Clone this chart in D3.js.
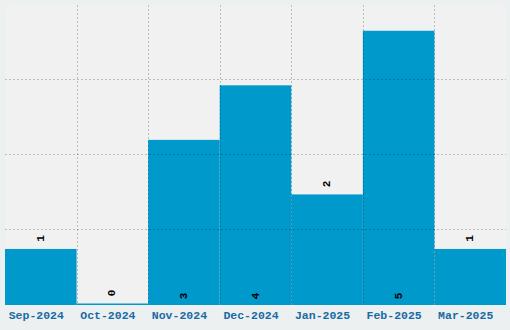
<!DOCTYPE html>
<html><head><meta charset="utf-8">
<script src="https://cdn.jsdelivr.net/npm/d3@7"></script>
<style>
html,body{margin:0;padding:0;background:#ecf0f1;}
svg{display:block;}
text{font-family:'Liberation Mono','DejaVu Sans Mono','Courier New',monospace;font-weight:bold;}
</style></head>
<body>
<svg id="chart" width="510" height="330"></svg>
<script>
const categories = ["Sep-2024","Oct-2024","Nov-2024","Dec-2024","Jan-2025","Feb-2025","Mar-2025"];
const values = [1,0,3,4,2,5,1];
const yGridCount = 4;

const W = 510, H = 330;
const m = {left:5, right:4, top:5, bottom:25};
const svg = d3.select("#chart");
svg.append("rect").attr("width",W).attr("height",H).attr("fill","#ecf0f1");
const iw = W - m.left - m.right, ih = H - m.top - m.bottom;
const g = svg.append("g").attr("transform",`translate(${m.left},${m.top})`);
g.append("rect").attr("width",iw).attr("height",ih).attr("fill","#f1f1f1");

const x = d3.scaleBand().domain(categories).range([0,iw]).padding(0);
const y = d3.scaleLinear().domain([0,5.5]).range([ih,0]);

// bars
g.selectAll("rect.bar").data(values).join("rect")
  .attr("class","bar")
  .attr("x",(d,i)=>x(categories[i]))
  .attr("width",x.bandwidth())
  .attr("y",d=>y(d)-1.5)
  .attr("height",d=>ih-y(d)+1.5)
  .attr("fill","#0099cc");

// grid
const gridColor = "rgba(0,0,0,0.22)";
const hLines = d3.range(1,yGridCount).map(k=>ih*k/yGridCount);
g.selectAll("line.hg").data(hLines).join("line")
  .attr("x1",0).attr("x2",iw).attr("y1",d=>Math.round(d)-0.5).attr("y2",d=>Math.round(d)-0.5)
  .attr("stroke",gridColor).attr("stroke-dasharray","2,2");
const vLines = categories.slice(1).map(c=>x(c));
g.selectAll("line.vg").data(vLines).join("line")
  .attr("x1",d=>Math.round(d)+0.5).attr("x2",d=>Math.round(d)+0.5).attr("y1",0).attr("y2",ih)
  .attr("stroke",gridColor).attr("stroke-dasharray","2,2");

// value labels
g.selectAll("text.val").data(values).join("text")
  .attr("class","val")
  .attr("transform",(d,i)=>{
    const cx = x(categories[i]) + x.bandwidth()/2;
    const cy = d>=3 ? ih-9 : y(d)-12;
    return `translate(${cx},${cy}) rotate(-90)`;
  })
  .attr("text-anchor","middle").attr("dominant-baseline","central")
  .style("font-size","11px").attr("fill","#000")
  .text(d=>d);

// x axis
const xa = g.append("g").attr("transform",`translate(0,${ih})`)
  .call(d3.axisBottom(x).tickSize(0).tickPadding(6));
xa.select(".domain").remove();
xa.selectAll("text").attr("dx",-4.5)
  .style("font-size","11.5px").attr("fill","#1a6aa3");
</script>
</body></html>
